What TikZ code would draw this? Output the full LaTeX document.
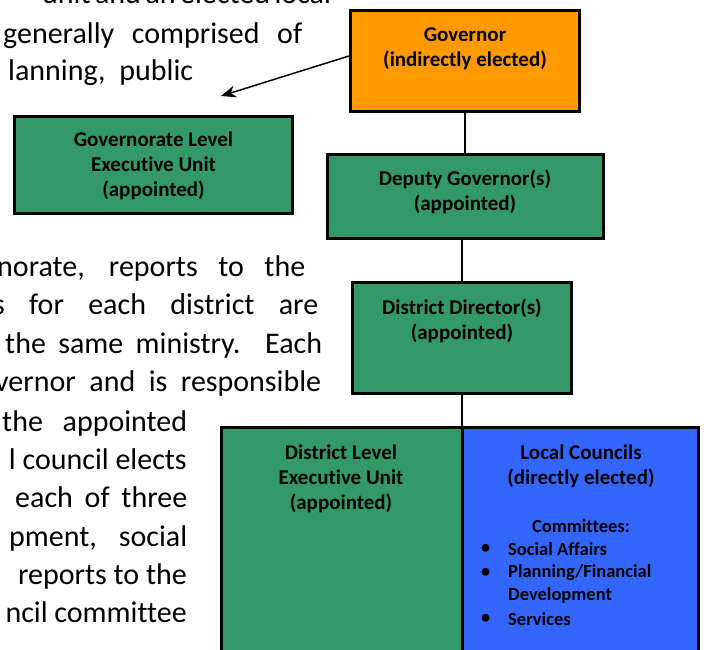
\documentclass[tikz,border=0pt]{standalone}
\usepackage{fontspec}
\setmainfont{Carlito}[Ligatures=NoCommon]
\usetikzlibrary{arrows.meta}
\definecolor{boxgreen}{RGB}{51,153,102}
\definecolor{boxorange}{RGB}{255,153,0}
\definecolor{boxblue}{RGB}{51,102,255}
\newcommand{\jline}[2]{\hbox to #1pt{#2}}
\hbadness=10000
\hfuzz=20pt
\begin{document}
\begin{tikzpicture}[x=1pt,y=-1pt,
  orgbox/.style={draw=black,line width=3pt,inner sep=0pt,outer sep=0pt},
  boxtext/.style={font=\fontsize{21}{25}\selectfont\bfseries,align=center,inner sep=0pt},
  smalltext/.style={font=\fontsize{18.5}{22.5}\selectfont\bfseries,inner sep=0pt},
  bodytext/.style={font=\fontsize{30}{38}\selectfont,inner sep=0pt},
  link/.style={draw=black,line width=1.5pt}]
\useasboundingbox (0,0) rectangle (708,649);
\begin{scope}
\clip (0,0) rectangle (708,649);
% background paragraph fragments
\node[bodytext,anchor=base west] (p0) at (42,3) {\jline{278}{unit and an elected local}};
\node[bodytext,anchor=base west] (p1) at (3,43) {\jline{299}{generally comprised of}};
\node[bodytext,anchor=base west] (p2) at (8,80) {\jline{185}{lanning, public}};
\node[bodytext,anchor=base west] (p3) at (-3,276.5) {\jline{308}{norate, reports to the}};
\node[bodytext,anchor=base west] (p4) at (-7,314.5) {\jline{325}{s for each district are}};
\node[bodytext,anchor=base west] (p5) at (5,353) {\jline{317}{the same ministry.\ \ Each}};
\node[bodytext,anchor=base west] (p6) at (-5,391.3) {\jline{326}{vernor and is responsible}};
\node[bodytext,anchor=base west] (p7) at (2,431) {\jline{185}{the appointed}};
\node[bodytext,anchor=base east] (p8) at (187,469) {l council elects};
\node[bodytext,anchor=base west] (p9) at (15,507.5) {\jline{172}{each of three}};
\node[bodytext,anchor=base west] (p10) at (9,546) {\jline{178}{pment, social}};
\node[bodytext,anchor=base east] (p11) at (187,584.5) {reports to the};
\node[bodytext,anchor=base east] (p12) at (187,622.5) {ncil committee};

% boxes
\node[orgbox,fill=boxorange,minimum width=229pt,minimum height=101pt] (gov) at (465,61) {};
\node[orgbox,fill=boxgreen,minimum width=276pt,minimum height=84pt] (dep) at (465.5,196.5) {};
\node[orgbox,fill=boxgreen,minimum width=278pt,minimum height=97pt] (geu) at (153.5,165) {};
\node[orgbox,fill=boxgreen,minimum width=219pt,minimum height=111pt] (dir) at (462,338) {};
\node[orgbox,fill=boxgreen,minimum width=240.5pt,minimum height=242.5pt] (deu) at (341.75,548.75) {};
\node[orgbox,fill=boxblue,minimum width=236.5pt,minimum height=242.5pt] (lc) at (580.25,548.75) {};

% box texts
\node[boxtext] (govt) at (465,48.5) {Governor\\(indirectly elected)};
\node[boxtext] (dept) at (465,192) {Deputy Governor(s)\\(appointed)};
\node[boxtext] (geut) at (153.5,165.5) {Governorate Level\\Executive Unit\\(appointed)};
\node[boxtext] (dirt) at (462,320.5) {District Director(s)\\(appointed)};
\node[boxtext] (deut) at (341,478.5) {District Level\\Executive Unit\\(appointed)};
\node[boxtext] (lct) at (581,466) {Local Councils\\(directly elected)};
\node[smalltext] (comt) at (581,526) {Committees:};
\node[smalltext,anchor=west] (b1) at (481,549) {•};
\node[smalltext,anchor=west] (c1) at (508,549) {Social Affairs};
\node[smalltext,anchor=west] (b2) at (481,573) {•};
\node[smalltext,anchor=west] (c2) at (508,573) {Planning/Financial};
\node[smalltext,anchor=west] (c3) at (508,595) {Development};
\node[smalltext,anchor=west] (b3) at (481,619) {•};
\node[smalltext,anchor=west] (c4) at (508,619) {Services};

% connectors
\draw[link] (gov.south) -- (gov.south |- dep.north);
\draw[link] (dir.north) -- (dir.north |- dep.south);
\draw[link] (dir.south) -- (dir.south |- lc.north);
\coordinate (astart) at (349,56);
\coordinate (atip) at (221,96);
\draw[link,-{Stealth[length=15pt,width=12pt]}] (astart) -- (atip);
\end{scope}
\end{tikzpicture}
\end{document}
